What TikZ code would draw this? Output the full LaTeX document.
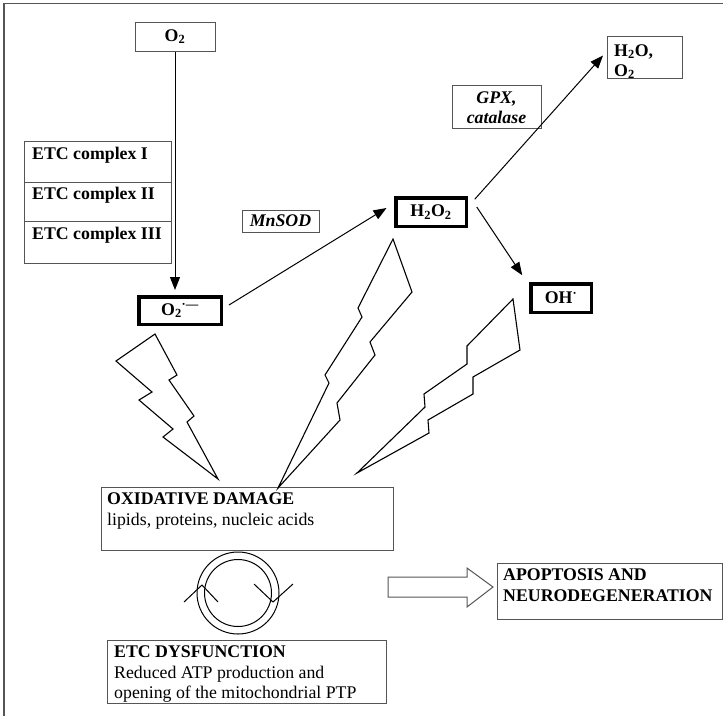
\documentclass[tikz,border=0pt]{standalone}
\usepackage{fontspec}
\setmainfont{Liberation Serif}
\usetikzlibrary{arrows.meta,calc}
\definecolor{boxgray}{RGB}{85,85,85}
\begin{document}
\begin{tikzpicture}[x=1pt,y=-1pt,
  font=\fontsize{17.8}{21}\selectfont\bfseries,
  thinbox/.style={draw=boxgray,line width=1pt,inner sep=0pt},
  thickbox/.style={draw=black,line width=3.5pt,inner sep=0pt},
  txt/.style={inner sep=0pt,anchor=base west},
  ctxt/.style={inner sep=0pt,anchor=base},
  arr/.style={line width=1pt,-{Triangle[length=13pt,width=10pt]}},
  bolt/.style={line width=1.1pt,line join=miter},
  ring/.style={line width=1pt}]
\useasboundingbox (0,0) rectangle (723,716);
% frame
\draw[boxgray,line width=1.3pt] (723,3.5) -- (4,3.5) -- (4,716);

% boxes
\node[thinbox,minimum width=80pt,minimum height=29pt] (o2) at (175,36.5) {O\textsubscript{2}};

\node[thinbox,minimum width=147pt,minimum height=122pt,anchor=north west] (etc) at (24,141) {};
\draw[boxgray,line width=1pt] ($(etc.north west)+(0,41)$) -- ($(etc.north east)+(0,41)$);
\draw[boxgray,line width=1pt] ($(etc.north west)+(0,80)$) -- ($(etc.north east)+(0,80)$);
\node[txt] (c1) at (32,159.3) {ETC complex I};
\node[txt] (c2) at (32,199.3) {ETC complex II};
\node[txt] (c3) at (32,239) {ETC complex III};

\node[thinbox,minimum width=77pt,minimum height=22pt] (mnsod) at (280.5,221) {\itshape MnSOD};

\node[thickbox,minimum width=82.5pt,minimum height=27.5pt] (o2r) at (180,310.5) {O\textsubscript{2}\textsuperscript{·—}};
\node[thickbox,minimum width=70.5pt,minimum height=28.5pt] (h2o2) at (431,212) {H\textsubscript{2}O\textsubscript{2}};
\node[thickbox,minimum width=60.5pt,minimum height=28.5pt] (oh) at (561,298) {OH\textsuperscript{·}};

\node[thinbox,minimum width=75pt,minimum height=42pt,anchor=north west] (h2o) at (607,36) {};
\node[txt] (h2oa) at (614,56) {H\textsubscript{2}O,};
\node[txt] (h2ob) at (614,76) {O\textsubscript{2}};

\node[thinbox,minimum width=89pt,minimum height=43pt] (gpx) at (496.5,106.5) {};
\node[ctxt] (gpxa) at (496.5,103.3) {\itshape GPX,};
\node[ctxt] (gpxb) at (496.5,123.3) {\itshape catalase};

\node[thinbox,minimum width=292pt,minimum height=63pt,anchor=north west] (oxid) at (101,487) {};
\node[txt] (oxa) at (107,504) {OXIDATIVE DAMAGE};
\node[txt] (oxb) at (107,525) {\mdseries lipids, proteins, nucleic acids};

\node[thinbox,minimum width=279pt,minimum height=63pt,anchor=north west] (etcd) at (107,640) {};
\node[txt] (eda) at (114,657.3) {ETC DYSFUNCTION};
\node[txt] (edb) at (114,678.3) {\mdseries Reduced ATP production and};
\node[txt] (edc) at (114,698.5) {\mdseries opening of the mitochondrial PTP};

\node[thinbox,minimum width=225pt,minimum height=56pt,anchor=north west] (apop) at (497,563) {};
\node[txt] (apa) at (503,580.7) {APOPTOSIS AND};
\node[txt] (apb) at (503,601.7) {NEURODEGENERATION};

% block arrow
\draw[boxgray,line width=1pt] (388,577) -- (467,577) -- (467,568) -- (493,587) -- (467,607) -- (467,597) -- (388,597) -- cycle;

% connectors
\draw[arr,shorten >=5pt] (o2.south) -- (o2.south |- o2r.north);
\draw[arr] ([shift={(6pt,5.5pt)}]o2r.east) -- ([shift={(-7.5pt,4pt)}]h2o2.west);
\draw[arr] ([shift={(6.75pt,-3.25pt)}]h2o2.north east) -- ([shift={(-4pt,2pt)}]h2o.west);
\draw[arr] ([shift={(8.75pt,5pt)}]h2o2.east) -- ([shift={(-6.75pt,6.75pt)}]oh.north west);

% lightning bolts
\draw[bolt] (155,334) -- (177,375) -- (169,380) -- (194,416) -- (187,422) -- (218,479) -- (163,437) -- (173,429) -- (139,400) -- (152,392) -- (116,361) -- cycle;
\draw[bolt] (393,239) -- (412,292) -- (370,342) -- (375,355) -- (337,403) -- (340,420) -- (278,488) -- (329,383) -- (325,375) -- (362,317) -- (358,308) -- cycle;
\draw[bolt] (513,299) -- (520,350) -- (473,377) -- (473,394) -- (428,420) -- (429,433) -- (357,473) -- (425,407) -- (424,394) -- (467,364) -- (467,346) -- cycle;

% cycle symbol
\draw[ring] (238,593) circle (41pt);
\draw[ring] (238,593) circle (33.5pt);
\draw[ring] (184,602) -- (202,585) -- (218,602);
\draw[ring] (254,584) -- (273,602) -- (293,584);
\end{tikzpicture}
\end{document}
